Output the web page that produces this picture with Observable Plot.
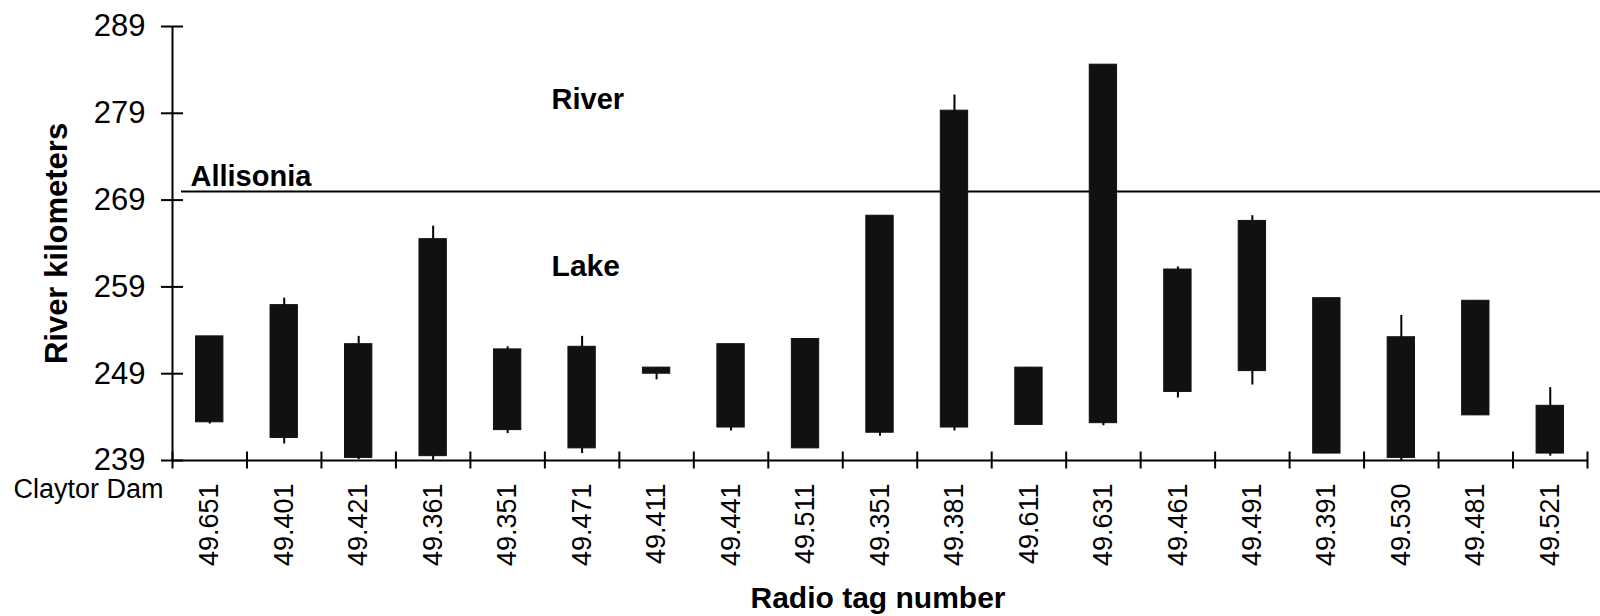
<!DOCTYPE html>
<html>
<head>
<meta charset="utf-8">
<script src="https://cdn.jsdelivr.net/npm/d3@7"></script>
<script src="https://cdn.jsdelivr.net/npm/@observablehq/plot@0.6"></script>
<style>
  html, body { margin: 0; padding: 0; background: #fff; }
  #chart svg { display: block; }
</style>
</head>
<body>
<div id="chart"></div>
<script>
// Radio tag numbers, in the order the fish are plotted
const tags = ["49.651", "49.401", "49.421", "49.361", "49.351", "49.471", "49.411", "49.441", "49.511", "49.351",
              "49.381", "49.611", "49.631", "49.461", "49.491", "49.391", "49.530", "49.481", "49.521"];

// Bar ends (river km)
const boxLow  = [243.4, 241.6, 239.3, 239.5, 242.5, 240.4, 249.0, 242.8, 240.4, 242.2,
                 242.8, 243.1, 243.3, 246.9, 249.3, 239.8, 239.3, 244.2, 239.8];
const boxHigh = [253.3, 256.9, 252.4, 264.5, 251.8, 252.1, 249.7, 252.4, 253.0, 267.2,
                 279.3, 249.7, 284.6, 261.0, 266.6, 257.7, 253.2, 257.4, 245.3];

// Whisker ends (river km)
const low  = [243.2, 240.9, 239.1, 239.0, 242.1, 239.8, 248.3, 242.4, 240.4, 241.8,
              242.4, 243.1, 243.0, 246.2, 247.7, 239.8, 239.0, 244.2, 239.5];
const high = [253.3, 257.7, 253.3, 266.0, 252.1, 253.3, 249.7, 252.4, 253.0, 267.2,
              281.1, 249.7, 284.6, 261.3, 267.2, 257.7, 255.7, 257.4, 247.4];

// y-axis ticks and the Allisonia reference line
const yTicks = [239, 249, 259, 269, 279, 289];
const allisonia = 270;

const rows = tags.map((tag, i) => ({
  i, tag, boxLow: boxLow[i], boxHigh: boxHigh[i], low: low[i], high: high[i]
}));

const halfBar = 0.1835;           // half the bar width, in category units
const font = "'Liberation Sans', Arial, Helvetica, sans-serif";

const chart = Plot.plot({
  width: 1600,
  height: 616,
  marginLeft: 172,
  marginRight: 13,
  marginTop: 26,
  marginBottom: 156,
  style: { fontFamily: font, background: "#fff", color: "#000", overflow: "visible" },
  x: { type: "linear", domain: [0, tags.length], axis: null },
  y: { domain: [239, 289], axis: null },
  marks: [
    // Allisonia reference line, running out to the right edge
    Plot.ruleY([allisonia], { stroke: "#000", strokeWidth: 2, insetLeft: 9, insetRight: -13 }),

    // high/low whiskers behind the bars
    Plot.ruleX(rows, { x: d => d.i + 0.5, y1: "low", y2: "high", stroke: "#000", strokeWidth: 2 }),

    // floating range bars
    Plot.rectY(rows, {
      x1: d => d.i + 0.5 - halfBar, x2: d => d.i + 0.5 + halfBar,
      y1: "boxLow", y2: "boxHigh",
      fill: "#111", stroke: "#111", strokeWidth: 1
    }),

    // axis lines
    Plot.ruleX([0], { y1: 239, y2: 289, stroke: "#000", strokeWidth: 2 }),
    Plot.ruleY([239], { x1: 0, x2: tags.length, stroke: "#000", strokeWidth: 2 }),

    // crossing tick marks on both axes
    Plot.ruleY(yTicks, { x1: 0, x2: 0, insetLeft: -11, insetRight: -11, stroke: "#000", strokeWidth: 2 }),
    Plot.ruleX(d3.range(tags.length + 1), { y1: 239, y2: 239, insetTop: -8.5, insetBottom: -8.5, stroke: "#000", strokeWidth: 2 }),

    // y tick labels
    Plot.axisY(yTicks, { anchor: "left", tickSize: 0, tickPadding: 27, fontSize: 31, label: null }),

    // rotated radio tag labels under each bar
    Plot.axisX(d3.range(tags.length).map(i => i + 0.5), {
      anchor: "bottom", tickSize: 0, tickPadding: 23, tickRotate: -90, fontSize: 27,
      tickFormat: d => tags[Math.floor(d)], label: null
    }),

    // axis titles
    Plot.text(["River kilometers"], {
      frameAnchor: "left", rotate: -90, dx: -115, fontSize: 31, fontWeight: "bold", textAnchor: "middle"
    }),
    Plot.text(["Radio tag number"], {
      frameAnchor: "bottom", dy: 147, dx: -2, lineAnchor: "bottom", fontSize: 30, fontWeight: "bold"
    }),

    // place names
    Plot.text(["Claytor Dam"], {
      x: 0, y: 239, dx: -9, dy: 37, textAnchor: "end", lineAnchor: "bottom", fontSize: 27
    }),
    Plot.text(["Allisonia"], {
      x: 0, y: allisonia, dx: 18, dy: -5, textAnchor: "start", lineAnchor: "bottom", fontSize: 29, fontWeight: "bold"
    }),
    Plot.text(["River"], {
      x: 5.09, y: 279.5, textAnchor: "start", lineAnchor: "bottom", fontSize: 29, fontWeight: "bold"
    }),
    Plot.text(["Lake"], {
      x: 5.09, y: 260.2, textAnchor: "start", lineAnchor: "bottom", fontSize: 30, fontWeight: "bold"
    })
  ]
});

document.getElementById("chart").appendChild(chart);
</script>
</body>
</html>
